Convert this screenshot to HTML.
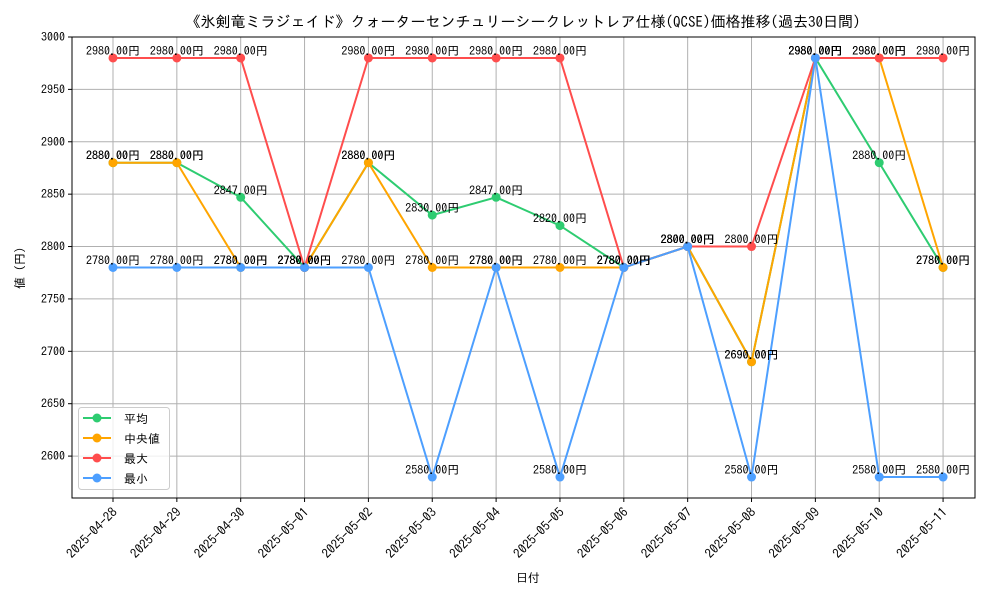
<!DOCTYPE html>
<html><head><meta charset="utf-8"><style>
body{margin:0;background:#fff;}
svg text{font-family:"IPAGothic","Noto Sans CJK JP",sans-serif;fill:#000;}
</style></head><body>
<svg id="c" width="1000" height="600">
<text x="523" y="27" font-size="15" text-anchor="middle">《氷剣竜ミラジェイド》クォーターセンチュリーシークレットレア仕様(QCSE)価格推移(過去30日間)</text>
<text x="528" y="582" font-size="12" text-anchor="middle">日付</text>
<text x="0" y="0" font-size="12" text-anchor="middle" transform="translate(24,268) rotate(-90)">値 (円)</text>
<g id="grid"></g><g id="series"></g><g id="labels"></g>
<rect x="72" y="37" width="903" height="461" fill="none" stroke="#000" stroke-width="1"/>
<g id="legend">
<rect x="78.5" y="407.5" width="91" height="82" rx="3" fill="#fff" fill-opacity="0.8" stroke="#ccc"/>
</g>
</svg>
<script>
const dates=["2025-04-28","2025-04-29","2025-04-30","2025-05-01","2025-05-02","2025-05-03","2025-05-04","2025-05-05","2025-05-06","2025-05-07","2025-05-08","2025-05-09","2025-05-10","2025-05-11"];
const avgVals=[2880,2880,2847,2780,2880,2830,2847,2820,2780,2800,2690,2980,2880,2780];
const medVals=[2880,2880,2780,2780,2880,2780,2780,2780,2780,2800,2690,2980,2980,2780];
const maxVals=[2980,2980,2980,2780,2980,2980,2980,2980,2780,2800,2800,2980,2980,2980];
const minVals=[2780,2780,2780,2780,2780,2580,2780,2580,2780,2800,2580,2980,2580,2580];
const yTicks=[2600,2650,2700,2750,2800,2850,2900,2950,3000];
const seriesNames=["平均","中央値","最大","最小"];
const NS="http://www.w3.org/2000/svg";
const L=72,R=975,T=37,B=498,yMin=2560,yMax=3000;
const step=(R-L)/(dates.length-1+1.142);
const xs=i=>L+step*0.642+i*step;
const ys=v=>B-(v-yMin)/(yMax-yMin)*(B-T);
function mk(tag,attrs,parent){const e=document.createElementNS(NS,tag);for(const k in attrs)e.setAttribute(k,attrs[k]);parent.appendChild(e);return e;}
const grid=document.getElementById('grid');
yTicks.forEach(v=>{
 const y=ys(v);
 const g=mk('line',{x1:L,x2:R,y1:y,y2:y,stroke:'#b0b0b0','stroke-width':1},grid);
 
 
 mk('line',{x1:L-4,x2:L,y1:y,y2:y,stroke:'#000'},grid);
 const t=mk('text',{x:L-7,y:y+4,'font-size':12,'text-anchor':'end'},grid);t.textContent=v;
 
 
});
dates.forEach((d,i)=>{
 const x=xs(i);
 const g=mk('line',{x1:x,x2:x,y1:T,y2:B,stroke:'#b0b0b0','stroke-width':1},grid);
 
 
 mk('line',{x1:x,x2:x,y1:B,y2:B+4,stroke:'#000'},grid);
 const t=mk('text',{x:0,y:0,'font-size':13,'text-anchor':'end',transform:`translate(${x+5},${B+15}) rotate(-45)`},grid);t.textContent=d;
 
 
});
const all=[[avgVals,'#2ecc71','avg'],[medVals,'#ffa500','median'],[maxVals,'#ff4d4d','max'],[minVals,'#4d9fff','min']];
const sg=document.getElementById('series'),lg=document.getElementById('labels');
all.forEach(([vals,col,nm])=>{
 const p=mk('polyline',{points:vals.map((v,i)=>xs(i)+','+ys(v)).join(' '),fill:'none',stroke:col,'stroke-width':2},sg);
 
 
 vals.forEach((v,i)=>{
  const c=mk('circle',{cx:xs(i),cy:ys(v),r:4.5,fill:col},sg);
  
  
  const t=mk('text',{x:xs(i),y:ys(v)-3,'font-size':12,'text-anchor':'middle'},lg);t.textContent=v.toFixed(2)+'円';
  
  
 });
});
const leg=document.getElementById('legend');
all.forEach(([v,col,nm],k)=>{
 const y=418+k*20;
 const l=mk('line',{x1:83,x2:111,y1:y,y2:y,stroke:col,'stroke-width':2},leg);
 
 
 mk('circle',{cx:97,cy:y,r:4.5,fill:col},leg);
 const t=mk('text',{x:124,y:y+5,'font-size':12},leg);t.textContent=seriesNames[k];
 
 
});
</script>
</body></html>
